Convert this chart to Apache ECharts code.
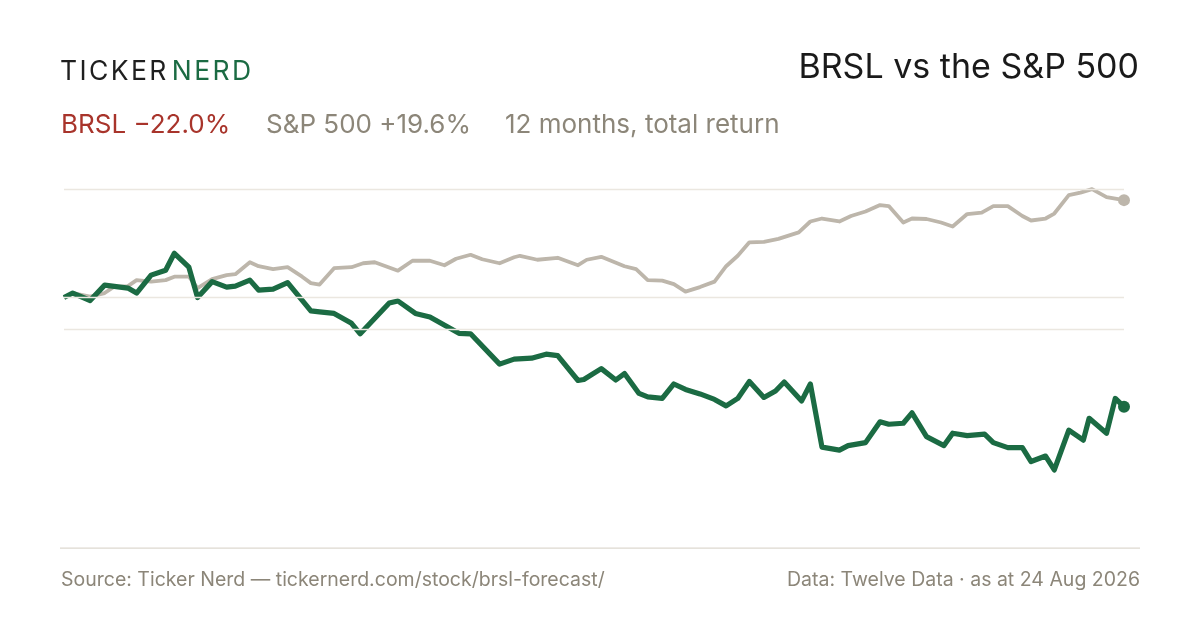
<!DOCTYPE html>
<html lang="en">
<head>
<meta charset="UTF-8">
<title>BRSL vs the S&amp;P 500</title>
<style>
  html, body { margin: 0; padding: 0; background: #ffffff; }
  .wrap { position: relative; width: 1200px; height: 630px; }
  #chart { width: 1200px; height: 630px; }
  .logo {
    position: absolute; left: 60px; top: 55px;
    font-family: Inter, sans-serif; font-size: 26.5px; font-weight: 400;
    letter-spacing: 2.4px; line-height: 30px; color: #1f1f1f; white-space: nowrap;
  }
  .logo span { color: #1b6b43; margin-left: 3px; }
</style>
</head>
<body>
<div class="wrap">
  <div id="chart"></div>
  <div class="logo">TICKER<span>NERD</span></div>
</div>
<script src="https://cdn.jsdelivr.net/npm/echarts@6/dist/echarts.min.js"></script>
<script>
// calendar day since start of window (0 = 24 Aug 2025, 365 = 24 Aug 2026) and cumulative total return in %
var brslDays = [0,3,9,14,22,25,30,35,38,43,46,51,56,59,64,67,72,77,85,88,93,99,102,112,115,121,126,136,140,150,
  155,161,166,170,177,179,185,190,193,198,201,206,210,214,219,224,228,232,236,241,245,248,254,257,261,267,270,276,281,284,
  289,292,297,303,306,311,317,320,325,330,333,338,341,346,351,353,359,362,365];
var brslReturn = [0,0.9,-0.6,2.5,1.9,0.9,4.5,5.5,8.9,6.1,0.0,3.2,2.1,2.3,3.5,1.5,1.7,3.0,-2.7,-2.9,-3.2,-5.2,-7.3,-1.1,-0.7,-3.2,-3.9,-7.2,-7.3,-13.4,
  -12.4,-12.2,-11.4,-11.7,-16.7,-16.5,-14.3,-16.6,-15.3,-19.3,-20.0,-20.3,-17.4,-18.5,-19.4,-20.5,-21.8,-20.3,-16.9,-20.1,-18.8,-17.0,-20.8,-17.4,-30.1,-30.7,-29.8,-29.2,-25.0,-25.5,
  -25.3,-23.2,-28.0,-29.8,-27.3,-27.8,-27.5,-29.2,-30.2,-30.2,-33.0,-31.9,-34.7,-26.7,-28.7,-24.3,-27.3,-20.3,-22.0];

var spxDays = [0,3,9,14,17,22,25,30,35,38,43,46,51,56,59,64,67,72,77,82,85,88,93,99,103,107,115,120,126,131,
  135,140,144,150,155,157,163,170,177,180,185,193,197,201,206,210,214,219,224,228,232,236,241,246,253,257,261,267,271,276,
  281,284,289,292,297,302,306,311,316,320,325,330,333,338,341,346,350,354,359,365];
var spxReturn = [0,0.9,0.2,0.9,2.1,2.3,3.5,3.2,3.5,4.2,4.2,1.9,3.7,4.5,4.7,7.1,6.3,5.7,6.1,4.2,2.9,2.6,5.9,6.1,6.9,7.1,5.4,7.4,7.4,6.5,
  7.8,8.6,7.7,6.9,8.1,8.4,7.6,8.0,6.5,7.6,8.2,6.3,5.7,3.5,3.4,2.7,1.2,2.1,3.2,6.3,8.4,11.1,11.2,11.8,13.1,15.3,15.9,15.3,16.4,17.3,
  18.6,18.4,15.1,15.9,15.8,15.1,14.3,16.8,17.1,18.4,18.4,16.4,15.5,15.9,16.9,20.6,21.1,21.8,20.2,19.6];

// reference levels drawn as horizontal rules
var gridLevels = [21.8, 0, -6.4];

var GREEN = '#1b6b43';
var SAND = '#bdb6ab';
var MUTED = '#8c8679';

function pairs(days, vals) {
    var out = [];
    for (var i = 0; i < days.length; i++) out.push([days[i], vals[i]]);
    return out;
}

var brslData = pairs(brslDays, brslReturn);
var spxData = pairs(spxDays, spxReturn);

var chart = echarts.init(document.getElementById('chart'));

var option = {
    backgroundColor: '#ffffff',
    animation: false,
    grid: { left: 64, right: 76, top: 188.2, bottom: 133.7 },
    xAxis: { type: 'value', min: 0, max: 365, show: false },
    yAxis: { type: 'value', min: -40, max: 22, show: false },
    graphic: [
        { type: 'text', right: 61, top: 51, style: { text: 'BRSL vs the S&P 500', font: '400 34px Inter', fill: '#1a1a1a' } },
        { type: 'text', left: 61, top: 112, style: { text: 'BRSL \u221222.0%', font: '400 26px Inter', fill: '#a8342b' } },
        { type: 'text', left: 266, top: 112, style: { text: 'S&P 500 +19.6%', font: '400 26px Inter', fill: MUTED } },
        { type: 'text', left: 505, top: 112, style: { text: '12 months, total return', font: '400 26px Inter', fill: MUTED } },
        { type: 'rect', shape: { x: 60, y: 547.5, width: 1080, height: 1.2 }, style: { fill: '#ddd8cf' } },
        { type: 'text', left: 61, top: 570, style: { text: 'Source: Ticker Nerd \u2014 tickernerd.com/stock/brsl-forecast/', font: '400 19.5px Inter', fill: MUTED } },
        { type: 'text', right: 60, top: 570, style: { text: 'Data: Twelve Data \u00b7 as at 24 Aug 2026', font: '400 19.5px Inter', fill: MUTED } }
    ],
    series: [
        {
            name: 'rules', type: 'line', data: [], z: 1, silent: true,
            markLine: {
                silent: true, symbol: 'none', label: { show: false },
                lineStyle: { color: '#ebe7e0', width: 1.4, type: 'solid' },
                data: gridLevels.map(function (v) { return { yAxis: v }; })
            }
        },
        {
            name: 'S&P 500', type: 'line', data: spxData, z: 2,
            showSymbol: false,
            lineStyle: { color: SAND, width: 3.8, join: 'round' }
        },
        {
            name: 'BRSL', type: 'line', data: brslData, z: 3,
            showSymbol: false,
            lineStyle: { color: GREEN, width: 5.2, join: 'round' }
        },
        {
            name: 'S&P 500 last', type: 'scatter', z: 4, silent: true,
            data: [spxData[spxData.length - 1]],
            symbolSize: 12, itemStyle: { color: SAND, opacity: 1 }
        },
        {
            name: 'BRSL last', type: 'scatter', z: 5, silent: true,
            data: [brslData[brslData.length - 1]],
            symbolSize: 12, itemStyle: { color: GREEN, opacity: 1 }
        }
    ]
};

chart.setOption(option);
</script>
</body>
</html>
